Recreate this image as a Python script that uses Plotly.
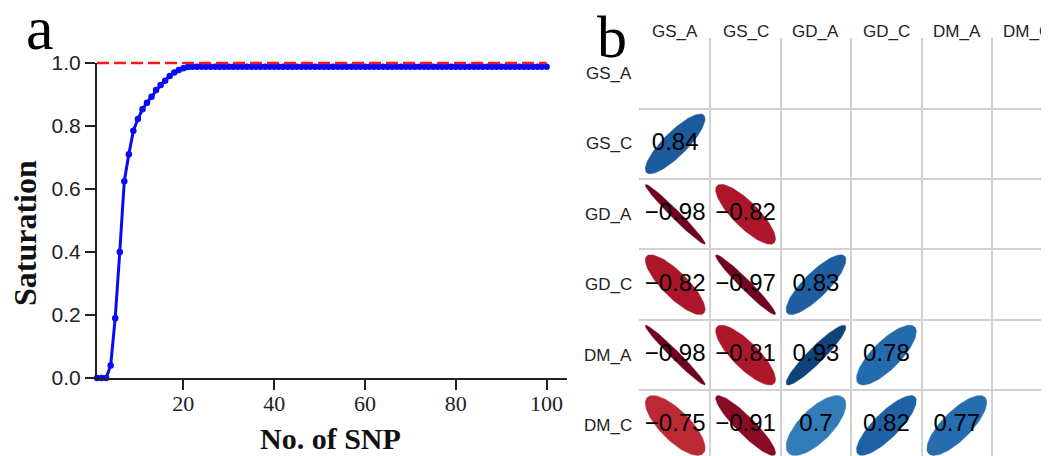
import numpy as np
import plotly.graph_objects as go
import plotly.colors as pc

# ---------------- data: panel a ----------------
snp_count = list(range(1, 101))
saturation = [
    0.0, 0.0, 0.0, 0.04, 0.19, 0.40, 0.625, 0.71, 0.785, 0.822,
    0.853, 0.874, 0.893, 0.914, 0.930, 0.944, 0.959, 0.970, 0.978, 0.983,
    0.987, 0.988, 0.988, 0.988, 0.988, 0.988, 0.988, 0.988, 0.988, 0.988,
    0.988, 0.988, 0.988, 0.988, 0.988, 0.988, 0.988, 0.988, 0.988, 0.988,
    0.988, 0.988, 0.988, 0.988, 0.988, 0.988, 0.988, 0.988, 0.988, 0.988,
    0.988, 0.988, 0.988, 0.988, 0.988, 0.988, 0.988, 0.988, 0.988, 0.988,
    0.988, 0.988, 0.988, 0.988, 0.988, 0.988, 0.988, 0.988, 0.988, 0.988,
    0.988, 0.988, 0.988, 0.988, 0.988, 0.988, 0.988, 0.988, 0.988, 0.988,
    0.988, 0.988, 0.988, 0.988, 0.988, 0.988, 0.988, 0.988, 0.988, 0.988,
    0.988, 0.988, 0.988, 0.988, 0.988, 0.988, 0.988, 0.988, 0.988, 0.988,
]
reference_level = 1.0
x_ticks = [20, 40, 60, 80, 100]
y_ticks = [0.0, 0.2, 0.4, 0.6, 0.8, 1.0]

# ---------------- data: panel b ----------------
traits = ["GS_A", "GS_C", "GD_A", "GD_C", "DM_A", "DM_C"]
corr_lower = [
    [],
    [0.84],
    [-0.98, -0.82],
    [-0.82, -0.97, 0.83],
    [-0.98, -0.81, 0.93, 0.78],
    [-0.75, -0.91, 0.7, 0.82, 0.77],
]

# ---------------- layout constants ----------------
SCREEN_W, SCREEN_H = 1049, 456
OFF = 8  # page body margin
W, H = SCREEN_W - OFF, SCREEN_H - OFF
SERIF = "Liberation Serif, Times New Roman, serif"
SANS = "Liberation Sans, Arial, sans-serif"
AX = "#222222"


def px_x(p):
    return (p - OFF) / W


def px_y(p):
    return 1 - (p - OFF) / H


fig = go.Figure()

# panel a traces
fig.add_trace(go.Scatter(
    x=snp_count, y=saturation, mode="lines+markers",
    line=dict(color="#0A0AF5", width=3), marker=dict(color="#0A0AF5", size=6.5),
    cliponaxis=False, showlegend=False, xaxis="x", yaxis="y"))
fig.add_trace(go.Scatter(
    x=[snp_count[0], snp_count[-1]], y=[reference_level, reference_level],
    mode="lines", line=dict(color="#EE1C1C", width=2.5, dash="12px,5px"),
    showlegend=False, xaxis="x", yaxis="y"))

# panel b ellipses
rdbu = pc.make_colorscale(pc.sequential.RdBu)
k = np.linspace(0, 2 * np.pi, 99)
tx, ty, tt = [], [], []
for i, row in enumerate(corr_lower):
    for j, r in enumerate(row):
        cx, cy = j + 1, i + 1
        a = np.arccos(r)
        ex = cx + 0.85 * np.cos(k + a / 2) / 2
        ey = cy - 0.85 * np.cos(k - a / 2) / 2
        col = pc.sample_colorscale(rdbu, [(r + 1) / 2])[0]
        fig.add_trace(go.Scatter(
            x=ex, y=ey, mode="lines", fill="toself", fillcolor=col,
            line=dict(color=col, width=0.5), hoverinfo="skip",
            showlegend=False, xaxis="x2", yaxis="y2"))
        tx.append(cx)
        ty.append(cy)
        tt.append(f"{r:g}".replace("-", "\u2212"))
fig.add_trace(go.Scatter(
    x=tx, y=ty, text=tt, mode="text",
    textfont=dict(family=SANS, size=24, color="black"),
    showlegend=False, xaxis="x2", yaxis="y2"))

cell = 70.4
left2 = 640 - 0.01 * cell
top2 = 38.3 - 0.01 * cell
n = len(traits)
centers = list(range(1, n + 1))
bounds = [c - 0.5 for c in centers] + [n + 0.5]

annotations = [
    dict(text="a", x=px_x(40), y=px_y(28), xref="paper", yref="paper",
         showarrow=False, xanchor="center", yanchor="middle",
         font=dict(family=SERIF, size=62, color="black")),
    dict(text="b", x=px_x(612), y=px_y(37), xref="paper", yref="paper",
         showarrow=False, xanchor="center", yanchor="middle",
         font=dict(family=SERIF, size=60, color="black")),
    dict(text="<b>Saturation</b>", x=px_x(25), y=px_y(233), xref="paper",
         yref="paper", showarrow=False, textangle=-90, xanchor="center",
         yanchor="middle", font=dict(family=SERIF, size=32, color="#111")),
    dict(text="<b>No. of SNP</b>", x=px_x(330), y=px_y(438), xref="paper",
         yref="paper", showarrow=False, xanchor="center", yanchor="middle",
         font=dict(family=SERIF, size=30, color="#111")),
]
for c, name in zip(centers, traits):
    annotations.append(dict(
        text=name, x=c, y=bounds[0], xref="x2", yref="y2", showarrow=False,
        xanchor="center", yanchor="bottom", yshift=-5,
        font=dict(family=SANS, size=17, color="#222")))
    annotations.append(dict(
        text=name, x=bounds[0], y=c, xref="x2", yref="y2", showarrow=False,
        xanchor="right", yanchor="middle", xshift=-6,
        font=dict(family=SANS, size=17, color="#222")))

fig.update_layout(
    width=W, height=H, margin=dict(l=0, r=0, t=0, b=0),
    paper_bgcolor="white", plot_bgcolor="white",
    xaxis=dict(domain=[px_x(96), px_x(567)], range=[0.77, 104.5], anchor="y",
               tickmode="array", tickvals=x_ticks, ticks="outside", ticklen=10,
               tickwidth=2, tickcolor=AX, showline=True, linewidth=2, linecolor=AX,
               showgrid=False, zeroline=False, automargin=False,
               ticklabelstandoff=-5,
               tickfont=dict(family=SERIF, size=22, color="#222")),
    yaxis=dict(domain=[px_y(378), px_y(59)], range=[0, 1.0 + 4 / 315], anchor="x",
               tickmode="array", tickvals=y_ticks,
               ticktext=[f"{v:.1f}" for v in y_ticks], ticks="outside", ticklen=10,
               tickwidth=2, tickcolor=AX, showline=False,
               showgrid=False, zeroline=False, automargin=False,
               tickfont=dict(family=SANS, size=21, color="#222")),
    xaxis2=dict(domain=[px_x(left2), 1], range=[0.49, 0.49 + (SCREEN_W - left2) / cell],
                anchor="y2", side="top", showticklabels=False, ticks="",
                showline=False, showgrid=False, zeroline=False, automargin=False,
                minor=dict(tickvals=bounds, showgrid=True, gridcolor="#D2D2D2",
                           gridwidth=1.5, ticks="")),
    yaxis2=dict(domain=[0, px_y(top2)], range=[0.49 + (SCREEN_H - top2) / cell, 0.49],
                anchor="x2", showticklabels=False, ticks="",
                showline=False, showgrid=False, zeroline=False, automargin=False,
                minor=dict(tickvals=bounds, showgrid=True, gridcolor="#D2D2D2",
                           gridwidth=1.5, ticks="")),
    shapes=[dict(type="line", xref="x domain", yref="y", x0=0, x1=0,
                 y0=y_ticks[0], y1=y_ticks[-1], line=dict(color=AX, width=2))],
    annotations=annotations,
)

fig.write_html("out.html")
